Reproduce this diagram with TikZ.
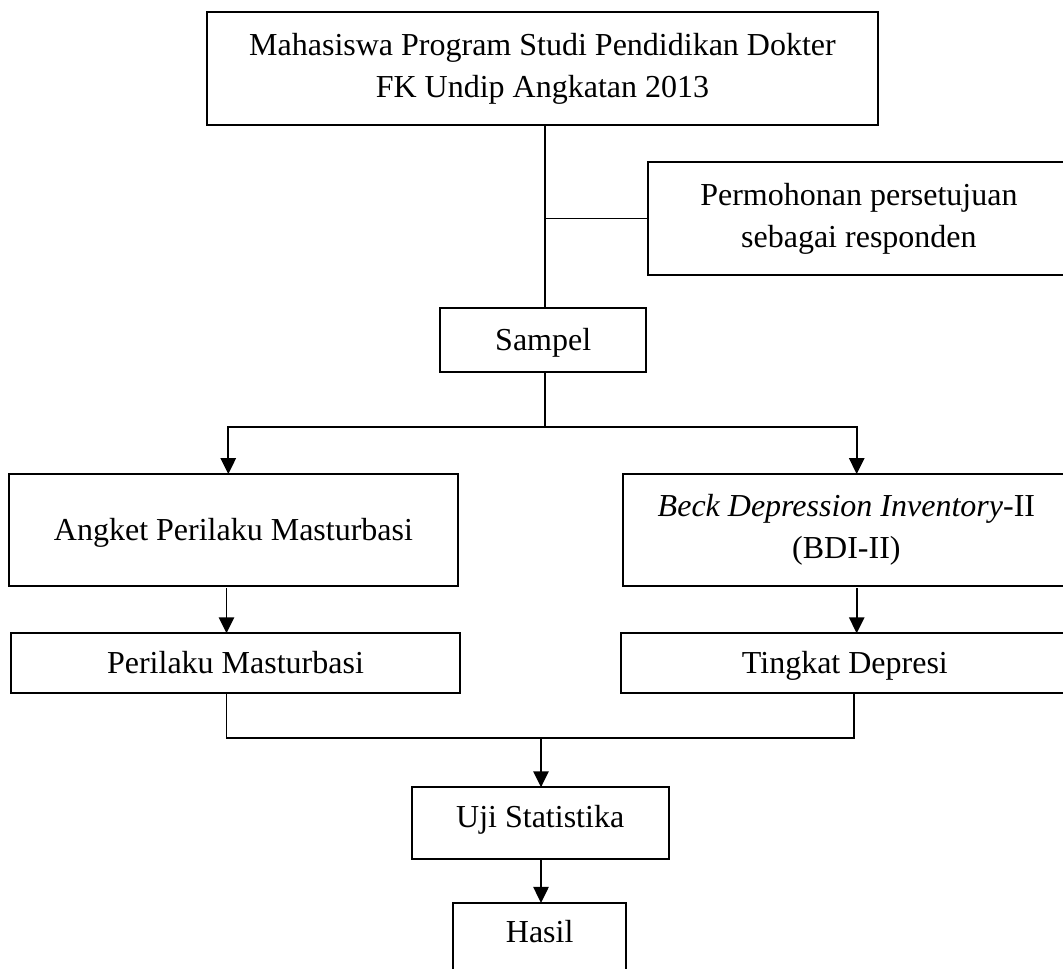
\documentclass[tikz,border=0pt]{standalone}
\usepackage{fontspec}
\setmainfont{Liberation Serif}
\usetikzlibrary{arrows.meta,calc}
\begin{document}
\begin{tikzpicture}[x=0.75pt,y=-0.75pt,
  bx/.style n args={2}{draw, line width=1.3pt, rectangle, inner sep=0pt, outer sep=0pt,
     align=center, font=\fontsize{24}{31.5}\selectfont,
     minimum width=#1*0.75pt, minimum height=#2*0.75pt},
  one/.style={text height=15.8pt, text depth=0pt},
  onelow/.style={text height=15.8pt, text depth=9.8pt},
  ln/.style={line width=1.3pt},
  arr/.style={line width=1.3pt, -{Triangle[length=12pt,width=11.5pt]}}]
\useasboundingbox (0,0) rectangle (1063,968);
\clip (0,0) rectangle (1063,968);
\node[bx={671.6}{113}] (top) at (542.5,68.8) {Mahasiswa Program Studi Pendidikan Dokter\\FK Undip Angkatan 2013};
\node[bx={422.3}{113.6}] (perm) at (858.9,218.5) {Permohonan persetujuan\\sebagai responden};
\node[bx={205.7}{63.4}, one] (sampel) at (543.2,340) {Sampel};
\node[bx={448.4}{111.7}, one] (angket) at (233.5,529.9) {Angket Perilaku Masturbasi};
\node[bx={447.3}{111.7}] (bdi) at (846.4,529.9) {\textit{Beck Depression Inventory}-II\\(BDI-II)};
\node[bx={449}{60}, one] (perilaku) at (235.5,663.3) {Perilaku Masturbasi};
\node[bx={448.3}{60}, one] (tingkat) at (844.9,663.3) {Tingkat Depresi};
\node[bx={257}{72}, onelow] (uji) at (540.2,823.3) {Uji Statistika};
\node[bx={172.7}{72}, onelow] (hasil) at (539.7,938.9) {Hasil};
\coordinate (trunk) at (545,0);
\coordinate (bl) at (228.3,427.3);
\coordinate (br) at (856.7,427.3);
\coordinate (jl) at (226.5,738);
\coordinate (jr) at (854.3,738);
\coordinate (jm) at (541,738);
\draw[ln] (trunk |- top.south) -- (trunk |- sampel.north);
\draw[ln] (trunk |- perm.west) -- (perm.west);
\draw[arr] (trunk |- sampel.south) -- (trunk |- bl) -| (bl |- angket.north);
\draw[arr] (trunk |- bl) -| (br |- bdi.north);
\draw[arr, shorten <=2pt] (jl |- angket.south) -- (jl |- perilaku.north);
\draw[arr, shorten <=2pt] (br |- bdi.south) -- (br |- tingkat.north);
\draw[ln] (jl |- perilaku.south) |- (jr) -- (jr |- tingkat.south);
\draw[arr] (jm) -- (jm |- uji.north);
\draw[arr] (jm |- uji.south) -- (jm |- hasil.north);
\end{tikzpicture}
\end{document}
